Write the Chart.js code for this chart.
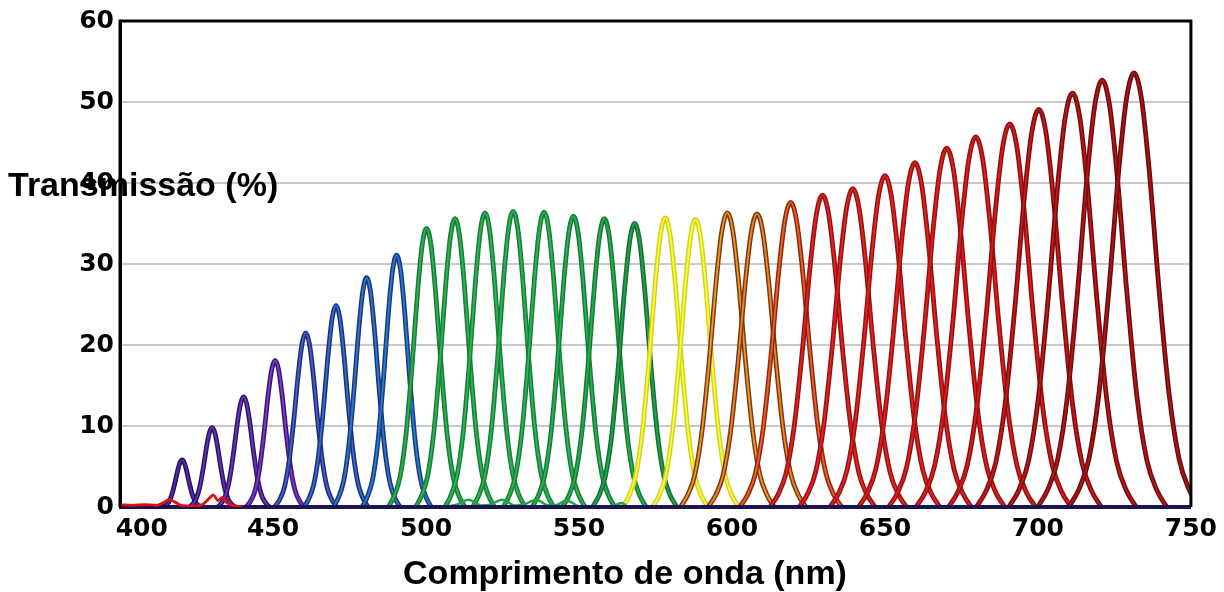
<!DOCTYPE html>
<html>
<head>
<meta charset="utf-8">
<script src="https://cdn.jsdelivr.net/npm/chart.js@4/dist/chart.umd.min.js"></script>
<style>
  html, body { margin: 0; padding: 0; background: #ffffff; }
  #wrap { width: 1224px; height: 592px; }
</style>
</head>
<body>
<div id="wrap"><canvas id="spectra" width="1224" height="592"></canvas></div>
<script>
// Centre wavelength (nm) of each tunable-filter pass band
const bandCentre = [420.3, 430.1, 440.4, 450.7, 460.7, 470.6, 480.6, 490.4,
                    500.2, 509.5, 519.3, 528.5, 538.6, 548.2, 558.3, 568.2,
                    578.2, 588.1, 598.5, 608.2, 619.2, 629.6, 639.5, 650.0,
                    659.8, 670.2, 679.7, 690.8, 700.3, 711.3, 721.0, 731.4];
// Peak transmission (%) of each pass band
const bandPeak = [5.8, 9.8, 13.6, 18.1, 21.5, 24.9, 28.3, 31.1,
                  34.4, 35.6, 36.3, 36.5, 36.4, 35.9, 35.6, 35.0,
                  35.7, 35.5, 36.3, 36.2, 37.6, 38.5, 39.3, 40.9,
                  42.5, 44.3, 45.7, 47.3, 49.1, 51.1, 52.7, 53.6];
// Full width at half maximum (nm) of each pass band
const bandWidth = [4.8, 5.7, 6.5, 7.3, 7.8, 8.1, 8.4, 8.7,
                   9.6, 9.9, 10.1, 10.2, 10.3, 10.4, 10.5, 10.6,
                   10.7, 10.8, 11.8, 12.3, 12.8, 13.2, 13.5, 13.8,
                   14.2, 14.6, 15.0, 15.4, 15.7, 16.0, 16.2, 16.4];
// Measured band shape: offset from centre (in half-widths) and relative level
const profileOffset = [-2.6, -2.2, -1.8, -1.4, -1.0, -0.6, -0.3, 0, 0.3, 0.6, 1.0, 1.4, 1.8, 2.2, 2.6];
const profileLevel  = [0, 0.04, 0.11, 0.26, 0.5, 0.78, 0.94, 1, 0.94, 0.78, 0.5, 0.26, 0.11, 0.04, 0];

// Residual leakage near the blue end
const leakWavelength = [400, 404, 408, 412, 414, 416, 418, 420, 424, 427, 429, 430.5, 432, 433.5, 435, 437, 440];
const leakLevel      = [0.3, 0.2, 0.3, 0.2, 0.5, 0.9, 0.6, 0.2, 0.1, 0.3, 1.0, 1.5, 0.8, 1.2, 0.5, 0.2, 0.0];
// Side lobes under the green bands
const lobeWavelength = [506, 510, 514, 518, 521, 525, 529, 532, 536, 540, 543, 546, 550, 560, 564, 566];
const lobeLevel      = [0.0, 0.3, 0.9, 0.2, 0.3, 0.9, 0.2, 0.3, 0.9, 0.2, 0.3, 0.8, 0.1, 0.0, 0.5, 0.0];

// Axis ticks
const wavelengthTicks = [400, 450, 500, 550, 600, 650, 700, 750];
const transmissionTicks = [0, 10, 20, 30, 40, 50, 60];

// Line colours: dark edge and bright core per band
const edgeColour = ['#24125a', '#2a1462', '#2e1568', '#3a1674', '#1f2c78', '#18327a', '#163878', '#153c7c',
                    '#167c38', '#167e38', '#168038', '#168038', '#168038', '#157c38', '#157a36', '#137034',
                    '#d2d21c', '#d4d41e', '#7a3a12', '#7c3612', '#8a2a10', '#901414', '#931212', '#951212',
                    '#951212', '#931212', '#901212', '#8c1010', '#7c0e0e', '#740c0c', '#6e0c0c', '#680b0b'];
const coreColour = ['#5a2aa8', '#6530b2', '#6c34b8', '#7a3cc4', '#4a5cc8', '#3a6ccc', '#3474cf', '#3078d0',
                    '#2eb050', '#2eb252', '#2eb452', '#2eb452', '#2eb452', '#2cb050', '#2aac4e', '#24a048',
                    '#fafa3a', '#fafa40', '#f09a24', '#f08822', '#f06020', '#e82020', '#e82020', '#e82020',
                    '#e61e1e', '#e41c1c', '#e01c1c', '#da1a1a', '#c81818', '#c01616', '#b81616', '#b01414'];

const datasets = [];
const n = bandCentre.length;
bandCentre.forEach((c, i) => {
  const half = bandWidth[i] / 2;
  const pts = profileOffset.map((u, k) => ({ x: c + u * half, y: bandPeak[i] * profileLevel[k] }));
  const base = { pointRadius: 0, cubicInterpolationMode: 'monotone', fill: false,
                 borderJoinStyle: 'round', borderCapStyle: 'round' };
  datasets.push(Object.assign({}, base, { data: pts, borderColor: coreColour[i], borderWidth: 1.8, order: 2 * (n - i) }));
  datasets.push(Object.assign({}, base, { data: pts.map(p => ({ x: p.x, y: p.y })), borderColor: edgeColour[i], borderWidth: 4.8, order: 2 * (n - i) + 1 }));
});
datasets.push({ data: lobeWavelength.map((x, k) => ({ x, y: lobeLevel[k] })), borderColor: '#25a048', borderWidth: 2.4,
                pointRadius: 0, cubicInterpolationMode: 'monotone', order: -1 });
datasets.push({ data: [{ x: 400, y: 0 }, { x: 750, y: 0 }], borderColor: '#1c1450', borderWidth: 4,
                pointRadius: 0, order: -2 });
datasets.push({ data: leakWavelength.map((x, k) => ({ x, y: leakLevel[k] })), borderColor: '#e01010', borderWidth: 2.8,
                pointRadius: 0, cubicInterpolationMode: 'monotone', order: -3 });

// Black frame round the plot area
const frame = {
  id: 'frame',
  afterDatasetsDraw(chart) {
    const { ctx, chartArea: a } = chart;
    ctx.save();
    ctx.strokeStyle = '#000';
    ctx.lineWidth = 3;
    ctx.beginPath();
    ctx.moveTo(a.left, a.bottom);
    ctx.lineTo(a.left, a.top);
    ctx.lineTo(a.right, a.top);
    ctx.lineTo(a.right, a.bottom);
    ctx.stroke();
    ctx.restore();
  }
};

// Axis captions: horizontal y caption at the left, x caption under the ticks
const captions = {
  id: 'captions',
  afterDraw(chart) {
    const ctx = chart.ctx;
    ctx.save();
    ctx.fillStyle = '#000';
    ctx.font = 'bold 34px "Liberation Sans", Arial, sans-serif';
    ctx.textBaseline = 'middle';
    ctx.textAlign = 'left';
    ctx.fillText('Transmissão (%)', 8, 187);
    ctx.textAlign = 'center';
    ctx.fillText('Comprimento de onda (nm)', 625, 575);
    ctx.restore();
  }
};

const tickFont = { family: 'DejaVu Sans', weight: 'bold', size: 25 };

new Chart(document.getElementById('spectra'), {
  type: 'line',
  data: { datasets },
  options: {
    responsive: false,
    devicePixelRatio: 1,
    animation: false,
    layout: { padding: { top: 20, right: 33, left: 0, bottom: 0 } },
    plugins: { legend: { display: false }, tooltip: { enabled: false } },
    scales: {
      x: {
        type: 'linear',
        min: wavelengthTicks[0],
        max: wavelengthTicks[wavelengthTicks.length - 1],
        afterBuildTicks(s) { s.ticks = wavelengthTicks.map(v => ({ value: v })); },
        ticks: {
          color: '#000', font: tickFont, padding: 7, maxRotation: 0, autoSkip: false,
          callback: v => (v === wavelengthTicks[0] ? '     ' + v : String(v))
        },
        grid: { display: false, drawTicks: false },
        border: { display: true, color: '#1c1450', width: 3 },
        afterFit(s) { s.height = 85; }
      },
      y: {
        min: transmissionTicks[0],
        max: transmissionTicks[transmissionTicks.length - 1],
        afterBuildTicks(s) { s.ticks = transmissionTicks.map(v => ({ value: v })); },
        ticks: { color: '#000', font: tickFont, padding: 6 },
        grid: { color: '#c9c9c9', lineWidth: 2, drawTicks: false },
        border: { display: true, color: '#000', width: 3 },
        afterFit(s) { s.width = 120; }
      }
    }
  },
  plugins: [frame, captions]
});
</script>
</body>
</html>
